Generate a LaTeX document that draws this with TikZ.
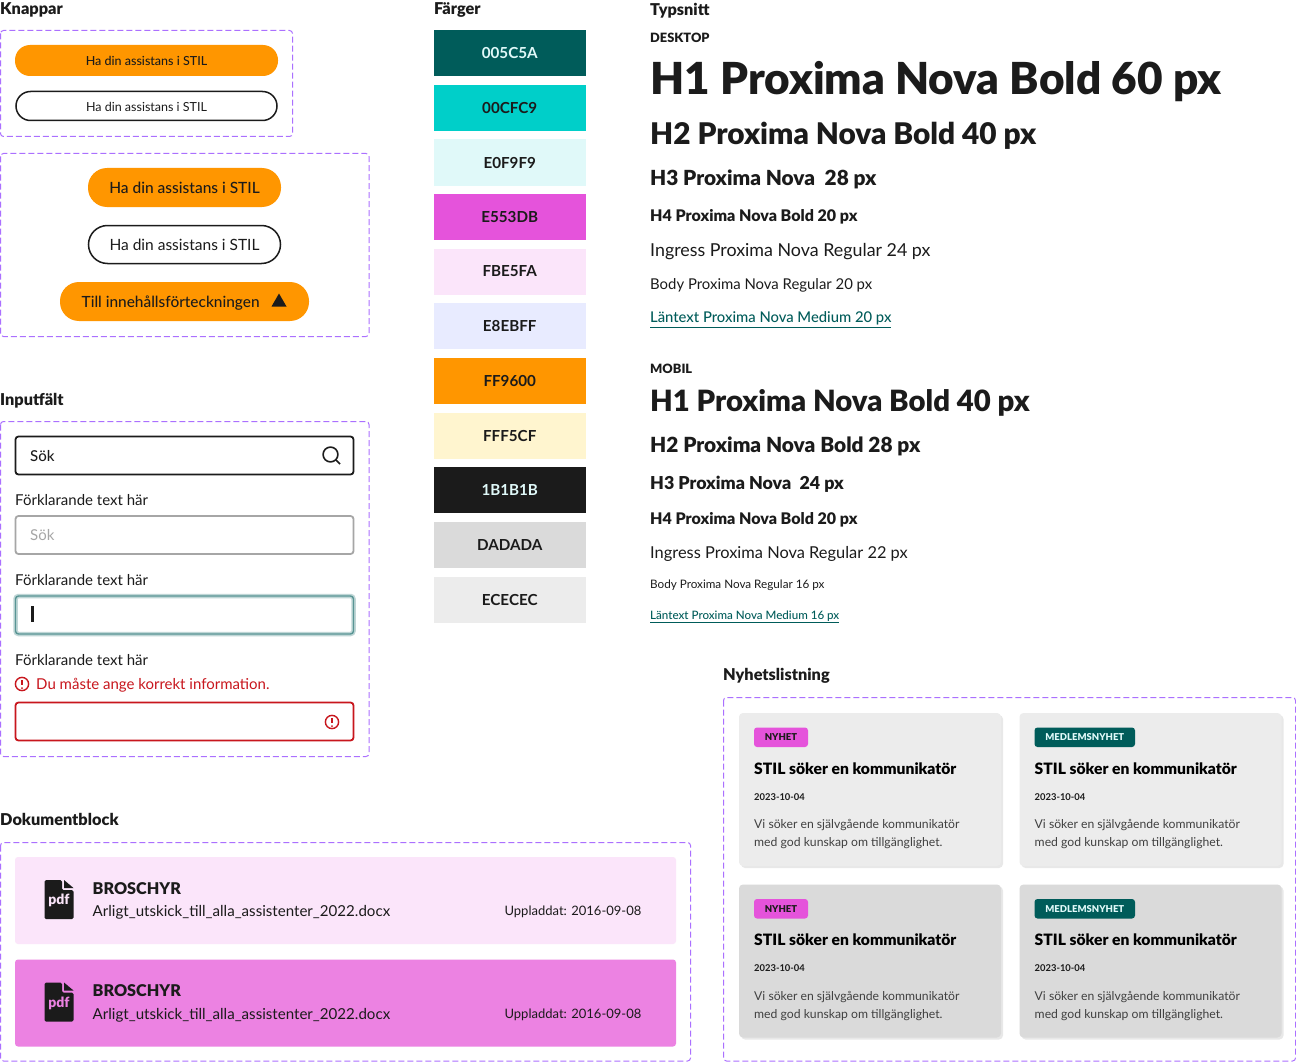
\documentclass[tikz,border=0pt]{standalone}
\usepackage{fontspec}
\setmainfont{Lato}
\newfontfamily\medfont{Lato Medium}
\newfontfamily\heavyfont{Lato Black}
\usetikzlibrary{shadows}
\definecolor{framec}{HTML}{AB70FF}
\definecolor{inkc}{HTML}{1B1B1B}
\definecolor{orangec}{HTML}{FF9600}
\definecolor{tealc}{HTML}{005C5A}
\definecolor{pinkc}{HTML}{E553DB}
\definecolor{redc}{HTML}{C8161D}
\newcommand{\fs}[1]{\fontsize{#1}{#1}\selectfont}
\tikzset{
    frame/.style={draw=framec, dashed, dash pattern=on 6pt off 3pt, line width=1pt, rounded corners=3pt},
    txt/.style={anchor=west, inner sep=0pt, text=inkc, text depth=0pt},
    head/.style={txt, font=\heavyfont\fs{16.3}},
    pill/.style={inner sep=0pt, outer sep=0pt, text=inkc, rounded corners=#1},
    infield/.style={draw=inkc, line width=1.8pt, rounded corners=3pt, minimum width=338pt, minimum height=38pt, inner sep=0pt, outer sep=0pt},
    swatch/.style={minimum width=152pt, minimum height=46pt, inner sep=0pt, outer sep=0pt, text depth=0pt, font=\bfseries\fs{15.2}},
    newscard/.style={rounded corners=4pt, minimum width=262pt, minimum height=153pt, inner sep=0pt, outer sep=0pt, drop shadow={opacity=0.18, shadow xshift=2pt, shadow yshift=-2pt}},
    tag/.style={rounded corners=3pt, minimum height=19.5pt, inner sep=0pt, outer sep=0pt, font=\heavyfont\fs{9.5}},
    doccard/.style={rounded corners=3pt, minimum width=661pt, minimum height=87pt, inner sep=0pt, outer sep=0pt}
}
\begin{document}
\begin{tikzpicture}[x=1pt, y=-1pt]
    \useasboundingbox (0,0) rectangle (1296,1062);
    \fill[white] (0,0) rectangle (1296,1062);

    % headings
    \node[head] (hKnappar) at (0,9) {Knappar};
    \node[head] (hFarger) at (434,9) {Färger};
    \node[head] (hTyp) at (650,9) {Typsnitt};
    \node[head] (hInput) at (0,399) {Inputfält};
    \node[head] (hDok) at (0,819) {Dokumentblock};
    \node[head] (hNyhet) at (723,674) {Nyhetslistning};

    % frames
    \draw[frame] (0.5,30.5) rectangle (292.5,136.5);
    \draw[frame] (0.5,153.5) rectangle (369,336.5);
    \draw[frame] (0.5,421.5) rectangle (369,756.5);
    \draw[frame] (0.5,842.5) rectangle (690.5,1061);
    \draw[frame] (723.5,697.5) rectangle (1295.5,1061);

    % buttons
    \node[pill=15pt, fill=orangec, minimum width=263pt, minimum height=31pt, text height=11pt, text depth=0pt, font=\medfont\fs{12.5}] (btnA) at (146.5,60.5) {Ha din assistans i STIL};
    \node[pill=14.5pt, draw=inkc, line width=1.5pt, minimum width=261pt, minimum height=29pt, text height=11pt, text depth=0pt, font=\fs{12.5}] (btnB) at (146.5,106) {Ha din assistans i STIL};
    \node[pill=19pt, fill=orangec, minimum width=193pt, minimum height=39pt, font=\medfont\fs{15.5}] (btnC) at (184.5,187.5) {Ha din assistans i STIL};
    \node[pill=19pt, draw=inkc, line width=1.5pt, minimum width=192pt, minimum height=38pt, font=\fs{15.5}] (btnD) at (184.5,244.5) {Ha din assistans i STIL};
    \node[pill=19pt, fill=orangec, minimum width=249pt, minimum height=39pt] (btnE) at (184.5,301.5) {};
    \node[txt, font=\medfont\fs{15.4}] (btnEtxt) at (81.5,301.5) {Till innehållsförteckningen};
    \fill[inkc] (279,293.5) -- (286.5,306.5) -- (271.5,306.5) -- cycle;

    % inputs
    \node[infield, anchor=north west] (inA) at (15.5,436.5) {};
    \node[txt, font=\medfont\fs{15}] (inAtxt) at (30,455.5) {Sök};
    \draw[inkc, line width=1.6pt] (330.5,454.5) circle (7.4pt);
    \draw[inkc, line width=1.6pt] (335.8,459.8) -- (340,464);
    \node[txt, font=\fs{15}] (labA) at (15,499.5) {Förklarande text här};
    \node[infield, anchor=north west, draw=black!35] (inB) at (15.5,516) {};
    \node[txt, font=\fs{15}, text=black!35] (inBtxt) at (30,534.5) {Sök};
    \node[txt, font=\fs{15}] (labB) at (15,580) {Förklarande text här};
    \node[infield, anchor=north west, draw=tealc!25, line width=4.5pt] (inCh) at (15.5,596) {};
    \node[infield, anchor=north west, draw=tealc!65, line width=1.4pt] (inC) at (15.5,596) {};
    \draw[inkc, line width=2.2pt] (32.5,606) -- (32.5,622);
    \node[txt, font=\fs{15}] (labC) at (15,660) {Förklarande text här};
    \draw[redc, line width=1.4pt] (22,684) circle (6.6pt);
    \draw[redc, line width=1.6pt] (22,680) -- (22,685);
    \fill[redc] (22,688) circle (1pt);
    \node[txt, font=\fs{15}, text=redc] (errTxt) at (36,684) {Du måste ange korrekt information.};
    \node[infield, anchor=north west, draw=redc] (inD) at (15.5,702.5) {};
    \draw[redc, line width=1.4pt] (332,722) circle (6.6pt);
    \draw[redc, line width=1.6pt] (332,718) -- (332,723);
    \fill[redc] (332,726) circle (1pt);

    % colours
    \foreach \ypos/\hexval/\inkval [count=\i] in {53/005C5A/E0F9F9, 108/00CFC9/1B1B1B, 162.5/E0F9F9/1B1B1B, 217/E553DB/1B1B1B, 271.5/FBE5FA/1B1B1B, 326/E8EBFF/1B1B1B, 381/FF9600/1B1B1B, 436/FFF5CF/1B1B1B, 490/1B1B1B/E0F9F9, 545/DADADA/1B1B1B, 599.5/ECECEC/1B1B1B}{
        \definecolor{swfill}{HTML}{\hexval}
        \definecolor{swink}{HTML}{\inkval}
        \node[swatch, fill=swfill, text=swink] (sw\i) at (509.75,\ypos) {\hexval};
    }

    % type specimens
    \foreach \name/\ypos/\size/\label in {
        d1/78/44.1/H1 Proxima Nova Bold 60 px,
        d2/133/29.8/H2 Proxima Nova Bold 40 px,
        d3/178/20.8/H3 Proxima Nova\ \ 28 px,
        d4/215.5/16/H4 Proxima Nova Bold 20 px,
        m1/400.5/29.3/H1 Proxima Nova Bold 40 px,
        m2/445/20.85/H2 Proxima Nova Bold 28 px,
        m3/482.5/17.8/H3 Proxima Nova\ \ 24 px,
        m4/518.5/16/H4 Proxima Nova Bold 20 px}{
        \node[txt, font=\heavyfont\fs{\size}] (\name) at (650,\ypos) {\label};
    }
    \foreach \name/\ypos/\size/\label in {
        d5/249.5/17.85/Ingress Proxima Nova Regular 24 px,
        d6/284/14.9/Body Proxima Nova Regular 20 px,
        m5/552/16.4/Ingress Proxima Nova Regular 22 px,
        m6/584.5/11.7/Body Proxima Nova Regular 16 px}{
        \node[txt, font=\fs{\size}] (\name) at (650,\ypos) {\label};
    }
    \node[txt, font=\heavyfont\fs{12.8}] (hDesk) at (650,37.5) {DESKTOP};
    \node[txt, font=\heavyfont\fs{12.8}] (hMob) at (650,368.5) {MOBIL};
    \node[txt, font=\medfont\fs{14.8}, text=tealc] (d7) at (650,317.5) {\underline{Läntext Proxima Nova Medium 20 px}};
    \node[txt, font=\medfont\fs{11.6}, text=tealc] (m7) at (650,615) {\underline{Läntext Proxima Nova Medium 16 px}};

    % document blocks
    \foreach \ypos/\fillval [count=\i] in {857/FBE5FA, 959.5/EC82E2}{
        \definecolor{docfill}{HTML}{\fillval}
        \node[doccard, anchor=north west, fill=docfill] (doc\i) at (15,\ypos) {};
        \fill[inkc, rounded corners=1.5pt] (44.5,\ypos+23) -- (62,\ypos+23) -- (62,\ypos+33) -- (73.5,\ypos+33) -- (73.5,\ypos+62) -- (44.5,\ypos+62) -- cycle;
        \fill[inkc] (64,\ypos+23) -- (73.5,\ypos+31) -- (64,\ypos+31) -- cycle;
        \node[inner sep=0pt, text=docfill, font=\heavyfont\fs{14}] (pdf\i) at (59,\ypos+43.5) {pdf};
        \node[txt, font=\heavyfont\fs{16.2}] (docT\i) at (92.5,\ypos+31.5) {BROSCHYR};
        \node[txt, font=\fs{15.1}] (docN\i) at (92.5,\ypos+54) {Arligt\_utskick\_till\_alla\_assistenter\_2022.docx};
        \node[txt, anchor=east, font=\fs{13}] (docD\i) at (641.5,\ypos+54) {Uppladdat: 2016-09-08};
    }

    % news cards
    \foreach \xpos/\ypos/\fillval/\tagfill/\tagink/\tagw/\tagtxt [count=\i] in {
        739/713/ECECEC/E553DB/1B1B1B/54/NYHET,
        1019.5/713/ECECEC/005C5A/E0F9F9/100.5/MEDLEMSNYHET,
        739/884.5/DADADA/E553DB/1B1B1B/54/NYHET,
        1019.5/884.5/DADADA/005C5A/E0F9F9/100.5/MEDLEMSNYHET}{
        \definecolor{cardfill}{HTML}{\fillval}
        \definecolor{tagfill}{HTML}{\tagfill}
        \definecolor{tagink}{HTML}{\tagink}
        \node[newscard, anchor=north west, fill=cardfill] (card\i) at (\xpos,\ypos) {};
        \node[tag, anchor=north west, fill=tagfill, text=tagink, minimum width=\tagw pt] (tag\i) at (\xpos+15,\ypos+14.5) {\tagtxt};
        \node[txt, font=\heavyfont\fs{15.65}, text=black] (title\i) at (\xpos+15,\ypos+55.5) {STIL söker en kommunikatör};
        \node[txt, font=\bfseries\fs{9.4}] (date\i) at (\xpos+15,\ypos+84) {2023-10-04};
        \node[txt, font=\fs{12.2}, text=black!75] (descA\i) at (\xpos+15,\ypos+111) {Vi söker en självgående kommunikatör};
        \node[txt, font=\fs{12.2}, text=black!75] (descB\i) at (\xpos+15,\ypos+129) {med god kunskap om tillgänglighet.};
    }
\end{tikzpicture}
\end{document}
